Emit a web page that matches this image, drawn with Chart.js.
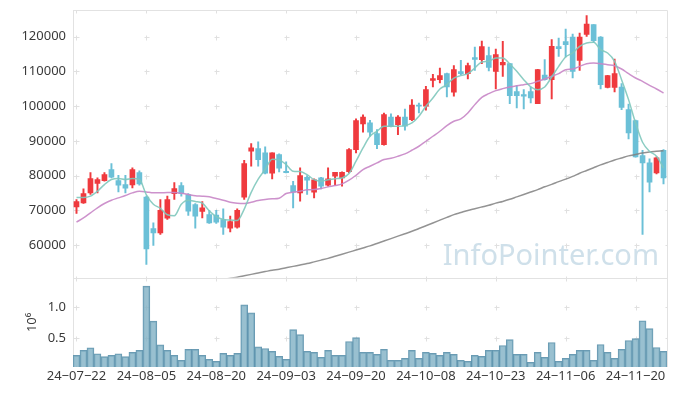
<!DOCTYPE html>
<html>
<head>
<meta charset="utf-8">
<script src="https://cdn.jsdelivr.net/npm/chart.js@4/dist/chart.umd.min.js"></script>
<style>
  html, body { margin: 0; padding: 0; background: #ffffff; }
  #wrap { width: 677px; height: 396px; position: relative; }
</style>
</head>
<body>
<div id="wrap"><canvas id="c" width="677" height="396"></canvas></div>
<script>
// ---- data ----
const dates = ["24-07-22","24-07-23","24-07-24","24-07-25","24-07-26","24-07-29","24-07-30","24-07-31","24-08-01","24-08-02",
"24-08-05","24-08-06","24-08-07","24-08-08","24-08-09","24-08-12","24-08-13","24-08-14","24-08-16","24-08-19",
"24-08-20","24-08-21","24-08-22","24-08-23","24-08-26","24-08-27","24-08-28","24-08-29","24-08-30","24-09-02",
"24-09-03","24-09-04","24-09-05","24-09-06","24-09-09","24-09-10","24-09-11","24-09-12","24-09-13","24-09-19",
"24-09-20","24-09-23","24-09-24","24-09-25","24-09-26","24-09-27","24-09-30","24-10-02","24-10-04","24-10-07",
"24-10-08","24-10-10","24-10-11","24-10-14","24-10-15","24-10-16","24-10-17","24-10-18","24-10-21","24-10-22",
"24-10-23","24-10-24","24-10-25","24-10-28","24-10-29","24-10-30","24-10-31","24-11-01","24-11-04","24-11-05",
"24-11-06","24-11-07","24-11-08","24-11-11","24-11-12","24-11-13","24-11-14","24-11-15","24-11-18","24-11-19",
"24-11-20","24-11-21","24-11-22","24-11-25","24-11-26"];

const open = [71030,72180,75060,77740,78600,81760,78600,77450,77360,80900,
73810,64800,63560,67770,74860,77160,74580,71700,69690,68830,
68640,67390,64900,65180,73810,87030,87800,86550,80710,86080,
81280,77160,75060,79560,75250,79370,77260,79850,79370,81190,
87510,94890,95180,92120,88950,96900,94700,96900,96140,100350,
99970,107450,107640,109360,104000,109940,109360,113960,113390,114540,
110030,111850,112240,104190,103330,104190,100740,108980,107640,117130,
118560,119900,113200,120670,123450,119900,105430,105430,105530,99010,
95850,85790,83680,80810,87320];

const high = [73140,76200,80900,79370,80900,83490,80130,80130,82240,81380,
74100,66430,73140,74100,78030,78030,74860,71990,72560,70000,
70000,70460,68350,70460,84450,89240,89720,88280,86550,86300,
83970,78410,82240,80040,79080,79560,82240,81000,81100,87800,
96330,97480,95950,93260,98050,97770,97290,99200,101890,100930,
105720,109170,110990,109500,111660,113200,112430,117030,118750,117030,
116450,118660,112300,105910,104760,105530,110600,113390,119140,119620,
122200,120770,121050,126040,123500,120000,108900,113580,106490,100640,
96000,87320,84830,85400,87510];

const low = [69110,71990,74580,75060,78410,79370,75340,75060,76490,77260,
54450,59910,63080,67390,73140,74100,68540,64900,67870,66240,
66240,63080,63840,64900,73140,82720,82720,80520,79080,81090,
80800,70740,72660,74580,73620,76200,76970,77260,76970,80810,
86550,92500,91350,87800,88760,94000,91820,93070,95850,98050,
98820,105530,106680,102650,102850,109080,107830,110320,112240,110130,
104950,108600,100740,99490,99200,100930,100700,107500,102080,114350,
114160,108120,110320,120100,118370,104950,105240,104090,99010,90580,
85300,63080,75340,80520,77640];

const close = [72560,74860,79180,78890,80330,79560,77260,76400,81760,77640,
58960,63560,70000,73140,76300,74860,69790,68350,70740,66430,
66620,65180,66810,70000,83490,87990,84640,80710,86550,82150,
80900,75250,80040,78700,78790,76970,79080,81000,81000,87510,
95850,96900,92500,88950,97580,94130,96900,94220,100350,99970,
104760,107930,108790,105530,110510,109360,111660,113480,117130,111180,
114830,112620,103040,103040,102850,102370,110510,107640,117220,116550,
117700,110030,119900,123640,118850,106200,108790,109360,99680,92300,
85400,83680,78120,85120,79370];

const volume = [215000,296000,339000,242000,194000,215000,242000,194000,263000,296000,
1344000,774000,387000,296000,215000,134000,312000,312000,215000,151000,
118000,247000,215000,247000,1038000,909000,355000,328000,280000,199000,
151000,634000,554000,280000,263000,183000,296000,215000,215000,441000,
505000,263000,263000,231000,312000,134000,134000,167000,296000,167000,
263000,247000,215000,263000,231000,134000,118000,215000,199000,296000,
296000,376000,473000,231000,231000,102000,263000,183000,425000,118000,
167000,231000,296000,296000,134000,392000,263000,167000,312000,457000,
489000,780000,651000,344000,280000];

const ma5 = [73710,73710,74100,75530,77450,78890,79180,78890,79180,78890,
74500,71800,70600,68750,68450,71800,72950,72550,72100,69900,
68200,67400,67250,67100,70400,75200,79000,81800,84750,84550,
83200,81300,81200,80300,78850,78400,78850,79150,79350,80600,
84160,87990,91350,92780,94220,94220,94220,94410,95180,97100,
99970,102370,104950,106200,108100,108790,109360,110990,112720,112910,
113870,113870,112140,110030,107640,105530,104760,105530,108410,111470,
114160,115300,117220,118180,118370,116260,115300,112910,107640,101890,
95180,89620,87030,85600,82240];

const ma20 = [66620,67870,69310,70740,71990,72950,73620,74290,75060,75530,
75340,75060,75060,75150,75150,74960,74580,74200,74100,73910,
73430,72950,72370,72080,71990,72370,72850,73140,73330,73520,
74860,75250,75530,75920,76010,76300,76780,77160,77640,78700,
80130,81760,82720,83680,84640,85020,85600,86270,87320,88470,
89910,91350,92780,94410,95660,96330,98050,100450,102560,103610,
104470,105050,105530,105910,106200,106490,107160,107830,108600,109360,
110510,110700,111470,112240,112430,112240,111950,111660,110700,109360,
108120,107160,106010,104950,103800];

const ma120 = [42100,42500,42900,43300,43700,44100,44500,44900,45300,45700,
46100,46400,46800,47200,47600,47900,48300,48600,49000,49400,
49700,50100,50500,50800,51200,51600,52000,52400,52800,53100,
53500,53900,54300,54700,55200,55700,56200,56800,57400,58000,
58600,59200,59800,60500,61200,61900,62600,63300,64000,64800,
65600,66400,67200,68000,68800,69400,70000,70500,71000,71500,
72100,72600,73200,73900,74600,75300,76000,76800,77500,78300,
79000,79800,80700,81500,82300,83100,83800,84500,85100,85700,
86100,86500,86800,87000,87200];

const priceTicks = [60000,70000,80000,90000,100000,110000,120000];
const volumeTicks = [500000,1000000];
const labelEvery = 10;

// ---- styles ----
const RED = '#ef3a3e';
const BLUE = '#6bc0d7';
const upColor = (i) => (close[i] >= open[i] ? RED : BLUE);
const FRAME = '#e2e2e2';
const CROSS = '#e0e0e0';

Chart.defaults.font.family = '"Noto Sans", "Open Sans", sans-serif';
Chart.defaults.font.size = 13;
Chart.defaults.color = '#3a3a3a';

// clip every dataset to its own y-scale panel
const panelClip = {
  id: 'panelClip',
  beforeDatasetDraw(chart, args) {
    const meta = args.meta;
    const ys = meta.yScale, xs = meta.xScale;
    const ctx = chart.ctx;
    ctx.save();
    ctx.beginPath();
    ctx.rect(xs.left, ys.top, xs.right - xs.left, ys.bottom - ys.top);
    ctx.clip();
  },
  afterDatasetDraw(chart) { chart.ctx.restore(); }
};

const frame = {
  id: 'frame',
  beforeDatasetsDraw(chart) {
    const ctx = chart.ctx;
    const x = chart.scales.x, y = chart.scales.y, yv = chart.scales.yv;
    const L = chart.chartArea.left, R = chart.chartArea.right;
    const crisp = v => Math.round(v) + 0.5;

    // watermark
    ctx.save();
    ctx.font = '29px "Noto Sans", "Open Sans", sans-serif';
    ctx.fillStyle = '#cfe0ea';
    ctx.textAlign = 'right';
    ctx.textBaseline = 'alphabetic';
    ctx.fillText('InfoPointer.com', R - 8, y.bottom - 12.5);
    ctx.restore();

    // crosses at grid intersections
    const xsPix = [L, R];
    for (let i = 0; i < dates.length; i += labelEvery) xsPix.push(x.getPixelForValue(i));
    const ysPix = [y.top, y.bottom, yv.bottom];
    priceTicks.forEach(v => ysPix.push(y.getPixelForValue(v)));
    volumeTicks.forEach(v => ysPix.push(yv.getPixelForValue(v)));
    ctx.save();
    ctx.beginPath();
    ctx.rect(L, y.top, R - L, yv.bottom - y.top);
    ctx.clip();
    ctx.strokeStyle = CROSS;
    ctx.lineWidth = 1;
    ctx.beginPath();
    xsPix.forEach(px => {
      ysPix.forEach(py => {
        const cx = crisp(px), cy = crisp(py);
        ctx.moveTo(cx - 2, cy); ctx.lineTo(cx + 3, cy);
        ctx.moveTo(cx, cy - 2); ctx.lineTo(cx, cy + 3);
      });
    });
    ctx.stroke();
    ctx.restore();

    // panel frame
    ctx.save();
    ctx.strokeStyle = FRAME;
    ctx.lineWidth = 1;
    ctx.beginPath();
    ctx.moveTo(crisp(L), yv.bottom); ctx.lineTo(crisp(L), crisp(y.top)); ctx.lineTo(crisp(R), crisp(y.top)); ctx.lineTo(crisp(R), yv.bottom);
    ctx.moveTo(L, crisp(y.bottom)); ctx.lineTo(R, crisp(y.bottom));
    ctx.stroke();
    ctx.restore();
  }
};

const lineDs = (label, data, color) => ({
  type: 'line', label, data, yAxisID: 'y',
  borderColor: color, borderWidth: 1.5, pointRadius: 0,
  cubicInterpolationMode: 'monotone', order: 0
});

const noPad = s => { s.paddingTop = 0; s.paddingBottom = 0; s.paddingLeft = 0; s.paddingRight = 0; };

new Chart(document.getElementById('c'), {
  type: 'bar',
  data: {
    labels: dates,
    datasets: [
      lineDs('MA5', ma5, 'rgba(128,200,188,0.9)'),
      lineDs('MA20', ma20, 'rgba(200,134,198,0.9)'),
      lineDs('MA120', ma120, 'rgba(128,128,128,0.85)'),
      {
        label: 'body', yAxisID: 'y', order: 1, grouped: false,
        data: open.map((o, i) => [o, close[i]]),
        backgroundColor: ctx => upColor(ctx.dataIndex),
        barThickness: 5, minBarLength: 1, borderWidth: 0
      },
      {
        label: 'wick', yAxisID: 'y', order: 2, grouped: false,
        data: low.map((l, i) => [l, high[i]]),
        backgroundColor: ctx => upColor(ctx.dataIndex),
        barThickness: 1.3, borderWidth: 0
      },
      {
        label: 'volume', yAxisID: 'yv', order: 3, grouped: false,
        data: volume,
        backgroundColor: 'rgba(128,176,196,0.8)',
        borderColor: 'rgba(80,138,166,0.85)', borderWidth: 1,
        barPercentage: 1, categoryPercentage: 1
      }
    ]
  },
  options: {
    responsive: false,
    animation: false,
    devicePixelRatio: 1,
    layout: { padding: { left: 0, right: 10, top: 10, bottom: 0 } },
    plugins: { legend: { display: false }, tooltip: { enabled: false } },
    scales: {
      x: {
        type: 'category', offset: true,
        grid: { display: false, drawTicks: false }, border: { display: false },
        ticks: {
          autoSkip: false, maxRotation: 0, minRotation: 0, padding: 1,
          callback: (v, i) => (i % labelEvery === 0 ? dates[i].replace(/-/g, '\u2212') : null)
        },
        afterFit: s => { s.height = 29; noPad(s); }
      },
      yv: {
        type: 'linear', position: 'left', stack: 'panels', stackWeight: 1,
        min: 26000, max: 1480000,
        grid: { display: false, drawTicks: false }, border: { display: false },
        ticks: { padding: 7, callback: v => (v / 1e6).toFixed(1) },
        afterBuildTicks: s => { s.ticks = volumeTicks.map(v => ({ value: v })); },
        title: { display: true, text: '10\u2076', padding: { top: 24, bottom: 0 }, font: { size: 13 } },
        afterFit: s => { s.width = 73; noPad(s); }
      },
      y: {
        type: 'linear', position: 'left', stack: 'panels', stackWeight: 3,
        min: 50630, max: 127680,
        grid: { display: false, drawTicks: false }, border: { display: false },
        ticks: { padding: 7, callback: v => String(v) },
        afterBuildTicks: s => { s.ticks = priceTicks.map(v => ({ value: v })); },
        afterFit: s => { s.width = 73; noPad(s); }
      }
    }
  },
  plugins: [panelClip, frame]
});
</script>
</body>
</html>
